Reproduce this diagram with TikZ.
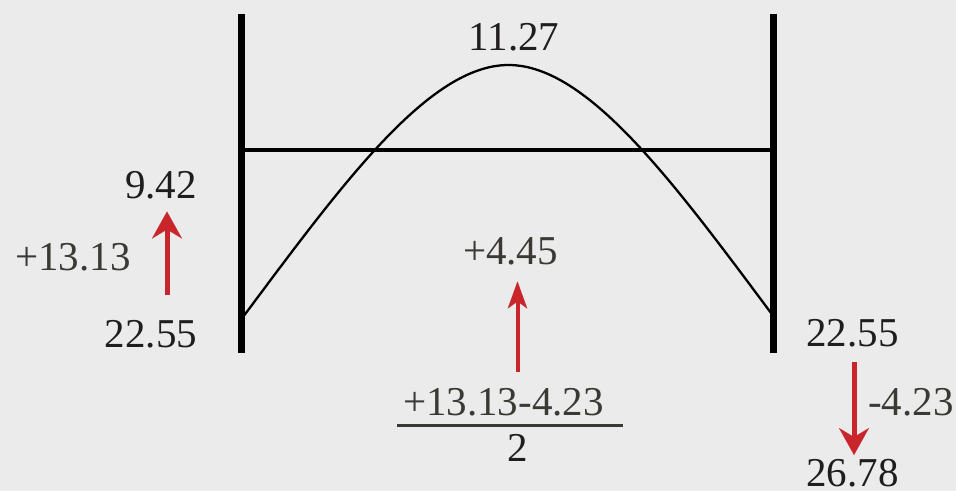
\documentclass[tikz,border=0pt]{standalone}
\usepackage{fontspec}
\setmainfont{Liberation Serif}
\usetikzlibrary{arrows.meta}
\definecolor{bg}{HTML}{EBEBEB}
\definecolor{txtdark}{HTML}{1F1D1D}
\definecolor{txtgray}{HTML}{3A3934}
\definecolor{arrred}{HTML}{C9262C}
\begin{document}
\begin{tikzpicture}[x=1pt,y=-1pt,
  lbl/.style={inner sep=0pt, anchor=base, font=\fontsize{41}{48}\selectfont, text=txtdark},
  lblgray/.style={lbl, text=txtgray},
  bar/.style={draw=black, line width=6.5pt, line cap=butt},
  beam/.style={draw=black, line width=4.5pt, line cap=butt},
  curveline/.style={draw=black, line width=2.3pt},
  fracline/.style={draw=txtgray, line width=3pt},
  bigred/.style={draw=arrred, line width=5pt, -{Stealth[length=27pt,width=30pt,inset=9pt,line width=0.1pt]}},
  thinred/.style={draw=arrred, line width=4pt, -{Stealth[length=27pt,width=19.5pt,inset=7pt,line width=0.1pt]}}
]
\useasboundingbox (0,0) rectangle (956,491);
\fill[bg] (0,0) rectangle (956,491);

% frame
\coordinate (lt) at (241.5,13.5);
\coordinate (lb) at (241.5,352.5);
\coordinate (rt) at (773.5,13.5);
\coordinate (rb) at (773.5,352.5);
\coordinate (hl) at (241.5,150);
\coordinate (hr) at (773.5,150);
\draw[bar] (lt) -- (lb);
\draw[bar] (rt) -- (rb);
\draw[beam] (hl) -- (hr);

% curve
\coordinate (cl) at (241.5,319);
\coordinate (cpk) at (508.5,65);
\coordinate (cr) at (775.5,319);
\draw[curveline] (cl) .. controls (341.5,185) and (428.5,65) .. (cpk)
  .. controls (588.5,65) and (675.5,185) .. (cr);

% labels
\node[lbl] (top) at (514,50) {11.27};
\node[lbl] (l942) at (161,198) {9.42};
\node[lblgray] (l1313) at (73,270) {+13.13};
\node[lbl] (l2255) at (151,347.5) {22.55};
\node[lblgray] (m445) at (510.5,264) {+4.45};
\node[lblgray] (num) at (503.5,415) {+13.13-4.23};
\node[lbl] (den) at (517.5,461.5) {2};
\node[lbl] (r2255) at (852.5,346.5) {22.55};
\node[lblgray] (r423) at (911,415) {-4.23};
\node[lbl] (r2678) at (852.5,486) {26.78};

% fraction bar
\coordinate (fl) at (397,425);
\coordinate (fr) at (622.5,425);
\draw[fracline] (fl) -- (fr);

% arrows
\coordinate (la0) at (167,295);
\coordinate (la1) at (167,211.5);
\draw[bigred] (la0) -- (la1);
\coordinate (ma0) at (517.5,372);
\coordinate (ma1) at (517.5,281.5);
\draw[thinred] (ma0) -- (ma1);
\coordinate (ra0) at (854,362);
\coordinate (ra1) at (854,455);
\draw[bigred] (ra0) -- (ra1);
\end{tikzpicture}
\end{document}
